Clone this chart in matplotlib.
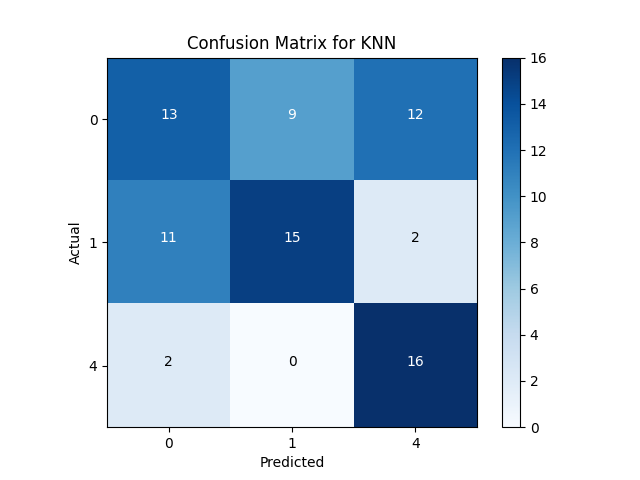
import numpy as np
import matplotlib
matplotlib.use("Agg")
import matplotlib.pyplot as plt

labels = ["0", "1", "4"]
cm = np.array([[13, 9, 12],
               [11, 15, 2],
               [2, 0, 16]])

fig = plt.figure(figsize=(6.4, 4.8), dpi=100)
plt.imshow(cm, interpolation="nearest", cmap=plt.cm.Blues)
plt.title("Confusion Matrix for KNN")
plt.colorbar()
ticks = np.arange(len(labels))
plt.xticks(ticks, labels)
plt.yticks(ticks, labels)
thresh = cm.max() / 2.0
for i in range(cm.shape[0]):
    for j in range(cm.shape[1]):
        plt.text(j, i, str(cm[i, j]), ha="center",
                 color="white" if cm[i, j] > thresh else "black")
plt.xlabel("Predicted")
plt.ylabel("Actual")
plt.savefig("out.png")
